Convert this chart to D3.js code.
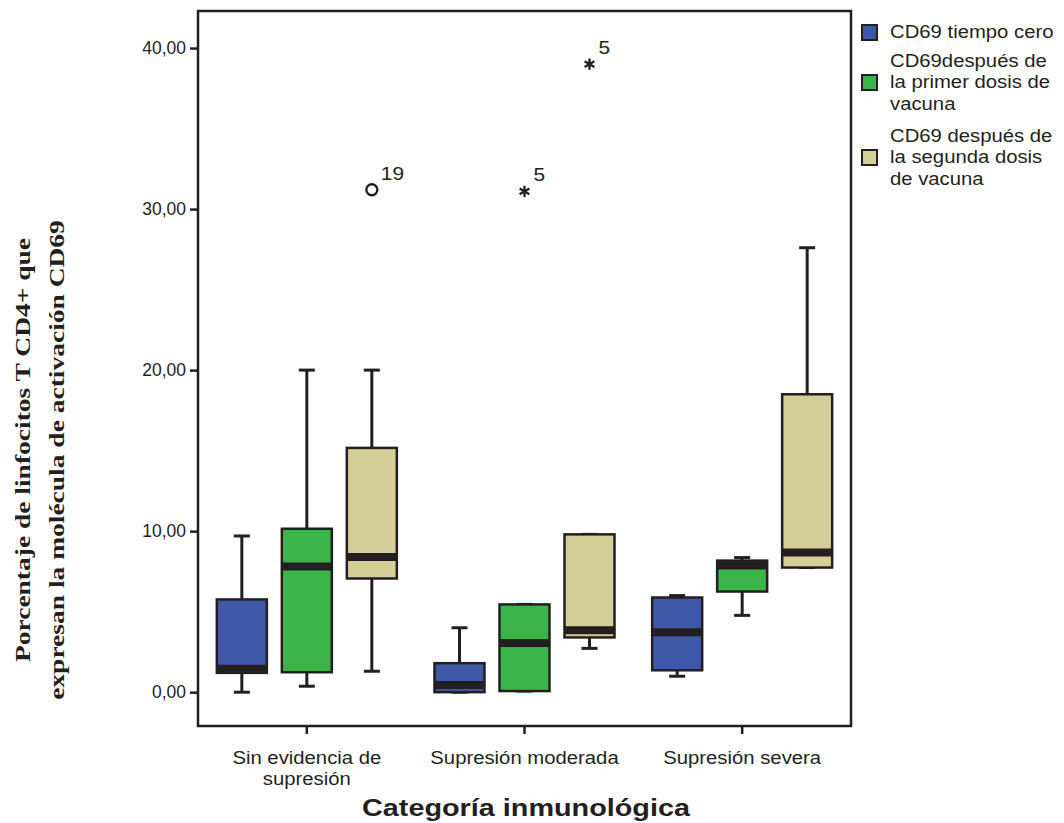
<!DOCTYPE html>
<html>
<head>
<meta charset="utf-8">
<script src="https://cdn.jsdelivr.net/npm/d3@7"></script>
<style>
  body { margin: 0; background: #fff; }
</style>
</head>
<body>
<svg id="chart"></svg>
<script>
const groups = ["Sin evidencia de supresión", "Supresión moderada", "Supresión severa"];
const groupLines = [["Sin evidencia de", "supresión"], ["Supresión moderada"], ["Supresión severa"]];
const series = ["CD69 tiempo cero", "CD69después de la primer dosis de vacuna", "CD69 después de la segunda dosis de vacuna"];
const seriesLines = [["CD69 tiempo cero"], ["CD69después de", "la primer dosis de", "vacuna"], ["CD69 después de", "la segunda dosis", "de vacuna"]];
const colors = ["#3e58a8", "#3bb54a", "#d4cf98"];

// [lowWhisker, q1, median, q3, highWhisker] per group, per series
const boxStats = [
    [[0.0, 1.2, 1.45, 5.76, 9.7], [0.37, 1.24, 7.8, 10.15, 20.0], [1.3, 7.06, 8.4, 15.17, 20.0]],
    [[0.0, 0.0, 0.45, 1.8, 4.0], [0.07, 0.07, 3.05, 5.45, 5.45], [2.72, 3.4, 3.85, 9.8, 9.8]],
    [[0.99, 1.36, 3.72, 5.88, 6.0], [4.77, 6.25, 7.86, 8.17, 8.36], [7.74, 7.74, 8.67, 18.5, 27.6]]
];

// outliers: group index, series index, value, kind, case label
const outliers = [
    { g: 0, s: 2, v: 31.2, kind: "o", label: "19" },
    { g: 1, s: 1, v: 31.1, kind: "*", label: "5" },
    { g: 1, s: 2, v: 39.0, kind: "*", label: "5" }
];

const yTicks = [0, 10, 20, 30, 40];

const width = 1064, height = 823;
const plot = { left: 198, right: 851, top: 11, bottom: 726 };
const dark = "#231f20";
const sans = "'Liberation Sans', Arial, sans-serif";
const stretch = 1.16;

const svg = d3.select("#chart").attr("width", width).attr("height", height);

// text widened a bit, like the original export
function wideText(x, y, size, anchor) {
    return svg.append("text")
        .attr("transform", `translate(${x},${y}) scale(${stretch},1)`)
        .attr("text-anchor", anchor || "start")
        .style("font-family", sans).style("font-size", size + "px")
        .attr("fill", dark);
}

const y = d3.scaleLinear().domain([-2.1, 42.3]).range([plot.bottom, plot.top]);
const x0 = d3.scaleBand().domain(groups).range([plot.left, plot.right]);
const bw = x0.bandwidth();
const x1 = d3.scaleBand().domain(series)
    .range([bw / 2 - 97.5, bw / 2 + 97.5])
    .paddingInner(0.2308).paddingOuter(0.1154);

// frame
svg.append("rect")
    .attr("x", plot.left).attr("y", plot.top)
    .attr("width", plot.right - plot.left).attr("height", plot.bottom - plot.top)
    .attr("fill", "none").attr("stroke", dark).attr("stroke-width", 2.5);

// y axis
const yAxis = svg.append("g")
    .attr("transform", `translate(${plot.left},0)`)
    .call(d3.axisLeft(y).tickValues(yTicks).tickSize(8).tickPadding(4)
        .tickFormat(d => d3.format(".2f")(d).replace(".", ",")));
yAxis.select(".domain").remove();
yAxis.selectAll("line").attr("stroke", dark).attr("stroke-width", 2.5);
yAxis.selectAll("text").attr("fill", dark)
    .style("font-family", sans).style("font-size", "17.5px");

// x axis
const xAxis = svg.append("g")
    .attr("transform", `translate(0,${plot.bottom})`)
    .call(d3.axisBottom(x0).tickSize(8).tickFormat(""));
xAxis.select(".domain").remove();
xAxis.selectAll("line").attr("stroke", dark).attr("stroke-width", 2.5);

groups.forEach((g, gi) => {
    groupLines[gi].forEach((ln, li) => {
        wideText(x0(g) + bw / 2, 764 + li * 21, 17.5, "middle").text(ln);
    });
});

// boxes
const capW = 16, boxW = x1.bandwidth();
groups.forEach((g, gi) => {
    series.forEach((s, si) => {
        const [lo, q1, med, q3, hi] = boxStats[gi][si];
        const cx = x0(g) + x1(s) + boxW / 2;
        const bg = svg.append("g");
        // whiskers
        bg.append("line").attr("x1", cx).attr("x2", cx).attr("y1", y(hi)).attr("y2", y(q3))
            .attr("stroke", dark).attr("stroke-width", 3);
        bg.append("line").attr("x1", cx).attr("x2", cx).attr("y1", y(q1)).attr("y2", y(lo))
            .attr("stroke", dark).attr("stroke-width", 3);
        [lo, hi].forEach(v => {
            bg.append("line").attr("x1", cx - capW / 2).attr("x2", cx + capW / 2)
                .attr("y1", y(v)).attr("y2", y(v))
                .attr("stroke", dark).attr("stroke-width", 3);
        });
        bg.append("rect")
            .attr("x", cx - boxW / 2).attr("y", y(q3))
            .attr("width", boxW).attr("height", Math.max(y(q1) - y(q3), 1))
            .attr("fill", colors[si]).attr("stroke", dark).attr("stroke-width", 2.5);
        bg.append("line").attr("x1", cx - boxW / 2).attr("x2", cx + boxW / 2)
            .attr("y1", y(med)).attr("y2", y(med))
            .attr("stroke", dark).attr("stroke-width", 8);
    });
});

// outliers
outliers.forEach(o => {
    const cx = x0(groups[o.g]) + x1(series[o.s]) + boxW / 2;
    const cy = y(o.v);
    if (o.kind === "o") {
        svg.append("circle").attr("cx", cx).attr("cy", cy).attr("r", 5.5)
            .attr("fill", "none").attr("stroke", dark).attr("stroke-width", 2.3);
    } else {
        svg.append("path")
            .attr("transform", `translate(${cx},${cy})`)
            .attr("d", d3.symbol(d3.symbolAsterisk, 90)())
            .attr("fill", "none").attr("stroke", dark).attr("stroke-width", 2.3);
    }
    wideText(cx + 9, cy - 10, 18).text(o.label);
});

// axis titles
svg.append("text")
    .attr("transform", `translate(526,816) scale(1.2,1)`)
    .attr("text-anchor", "middle")
    .style("font-family", sans).style("font-size", "24px").style("font-weight", "bold")
    .attr("fill", dark).text("Categoría inmunológica");

const yt = svg.append("text")
    .attr("transform", "translate(0,455) rotate(-90) scale(1.25,1)")
    .attr("text-anchor", "middle")
    .style("font-family", "'Liberation Serif', 'Times New Roman', serif")
    .style("font-size", "22px").style("font-weight", "bold")
    .attr("fill", dark);
yt.append("tspan").attr("x", 4).attr("y", 30).text("Porcentaje de linfocitos T CD4+ que");
yt.append("tspan").attr("x", -4).attr("y", 64).text("expresan la molécula de activación CD69");

// legend
const legendTop = [32, 82, 157];
series.forEach((s, si) => {
    const cy = legendTop[si];
    svg.append("rect").attr("x", 862).attr("y", cy - 7).attr("width", 15).attr("height", 15)
        .attr("fill", colors[si]).attr("stroke", dark).attr("stroke-width", 2);
    const n = seriesLines[si].length;
    seriesLines[si].forEach((ln, li) => {
        wideText(890, cy + 6 + (li - (n - 1) / 2) * 21.5, 17.5).text(ln);
    });
});
</script>
</body>
</html>
